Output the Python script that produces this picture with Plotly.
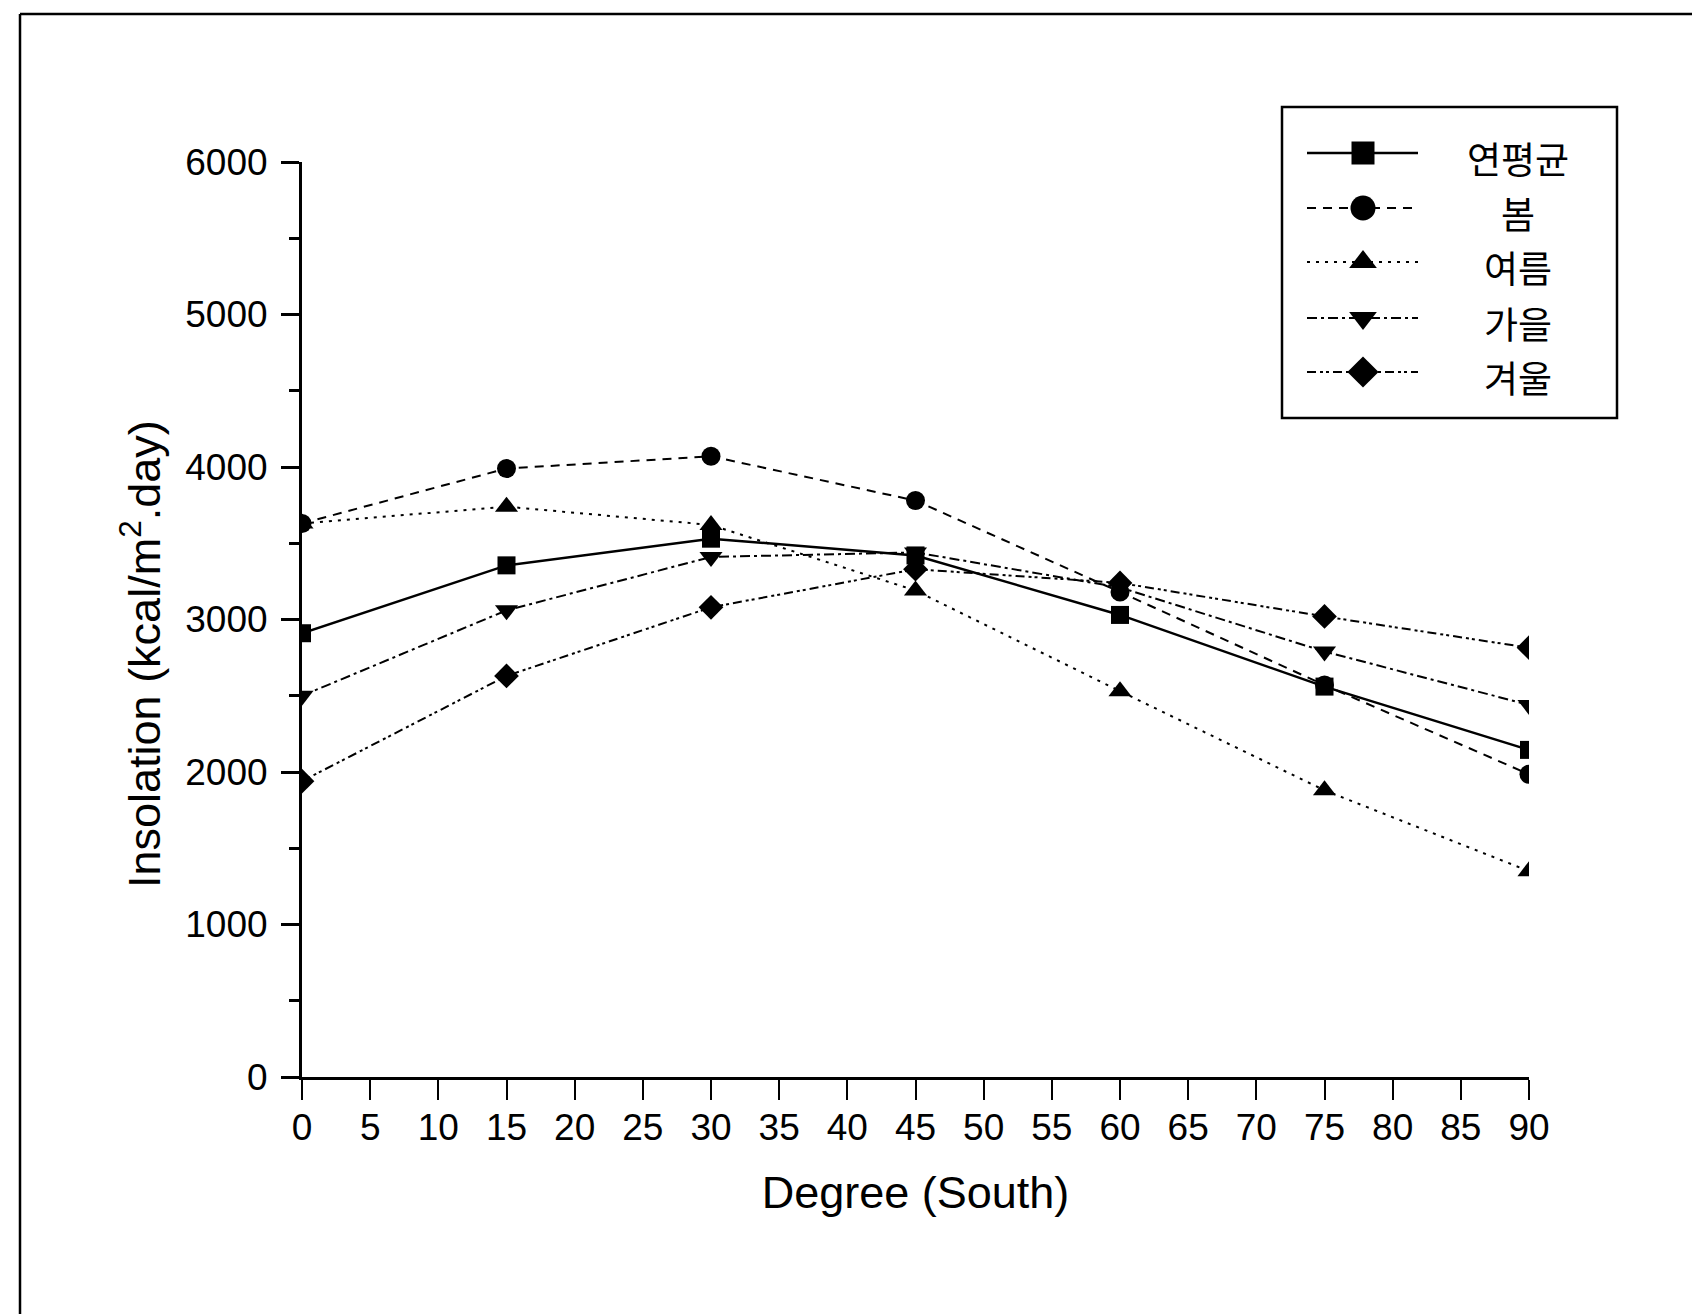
import plotly.graph_objects as go

# ---- data ----
angles = [0, 15, 30, 45, 60, 75, 90]
annual = [2910, 3355, 3530, 3420, 3030, 2560, 2145]   # 연평균
spring = [3630, 3990, 4070, 3780, 3180, 2570, 1985]   # 봄
summer = [3630, 3740, 3620, 3190, 2530, 1880, 1350]   # 여름
autumn = [2500, 3060, 3410, 3440, 3210, 2790, 2440]   # 가을
winter = [1940, 2630, 3080, 3330, 3240, 3020, 2815]   # 겨울
names = ["연평균", "봄", "여름", "가을", "겨울"]
x_ticks = list(range(0, 91, 5))
y_ticks = list(range(0, 6001, 1000))

# ---- layout geometry (pixels) ----
W, H = 1692, 1314
L, R, T, B = 302, 1529, 162, 1077   # main plot area edges
TP = 80                             # top of the margin box (legend overlay area)


def px(xp):
    return (xp - L) / (R - L)


def py(yp):
    return (B - yp) / (B - TP)


series = [annual, spring, summer, autumn, winter]
symbols = ["square", "circle", "triangle-up", "triangle-down", "diamond"]
dashes = ["solid", "9px,7px", "3px,6px", "10px,4px,3px,4px", "9px,4px,3px,3px,3px,4px"]
widths = [2.5, 2, 2, 2, 2]
sizes = [18, 19, 20, 20, 19]
leg_sizes = [23, 25, 24, 24, 24]

fig = go.Figure()
for vals, nm, sym, ds, lw, sz in zip(series, names, symbols, dashes, widths, sizes):
    fig.add_trace(go.Scatter(
        x=angles, y=vals, name=nm, mode="lines+markers",
        line=dict(color="black", width=lw, dash=ds),
        marker=dict(symbol=sym, size=sz, color="black"),
        showlegend=False,
    ))

# ---- custom legend ----
font_main = "Liberation Sans, Arial, sans-serif"
leg_rows = [153, 208, 262, 318, 372]
leg_x0, leg_xm, leg_x1 = 1307, 1363, 1418
shapes = []
for nm, sym, ds, lw, sz, ry in zip(names, symbols, dashes, widths, leg_sizes, leg_rows):
    shapes.append(dict(type="line", xref="paper", yref="paper",
                       x0=px(leg_x0), x1=px(leg_x1), y0=py(ry), y1=py(ry),
                       line=dict(color="black", width=lw, dash=ds)))
    fig.add_trace(go.Scatter(
        x=[leg_xm], y=[ry], xaxis="x2", yaxis="y2", mode="markers",
        marker=dict(symbol=sym, size=sz, color="black"),
        showlegend=False, hoverinfo="skip", cliponaxis=False,
    ))
    fig.add_annotation(
        x=px(1518), y=py(ry + 5), xref="paper", yref="paper",
        text=nm, showarrow=False, xanchor="center", yanchor="middle",
        font=dict(family="Noto Sans CJK KR", size=37, color="black"),
    )

# y-axis title as rotated annotation
fig.add_annotation(
    x=px(141), y=py(654), xref="paper", yref="paper",
    text="Insolation (kcal/m<sup>2</sup>.day)", textangle=-90, showarrow=False,
    xanchor="center", yanchor="middle",
    font=dict(family=font_main, size=45, color="black"),
)

shapes += [
    # legend box
    dict(type="rect", xref="paper", yref="paper",
         x0=px(1282), x1=px(1617), y0=py(418), y1=py(107),
         line=dict(color="black", width=2.5), fillcolor="rgba(0,0,0,0)"),
    # scanned frame lines (top and left)
    dict(type="line", xref="paper", yref="paper",
         x0=px(20), x1=px(1692), y0=py(14), y1=py(14),
         line=dict(color="black", width=2.5)),
    dict(type="line", xref="paper", yref="paper",
         x0=px(20), x1=px(20), y0=py(14), y1=py(1314),
         line=dict(color="black", width=2.5)),
]

fig.update_layout(
    width=W, height=H,
    margin=dict(l=L, r=W - R, t=TP, b=H - B, pad=0),
    paper_bgcolor="white", plot_bgcolor="rgba(0,0,0,0)",
    font=dict(family=font_main, color="black"),
    shapes=shapes,
    xaxis=dict(
        domain=[0, 1],
        range=[0, 90], tickmode="array", tickvals=x_ticks,
        ticks="outside", ticklen=20, tickwidth=2, tickcolor="black",
        showline=True, linewidth=3, linecolor="black",
        showgrid=False, zeroline=False,
        tickfont=dict(family=font_main, size=37, color="black"),
        ticklabelstandoff=-4,
        title=dict(text="Degree (South)", standoff=30,
                   font=dict(family=font_main, size=45, color="black")),
    ),
    yaxis=dict(
        domain=[0, (B - T) / (B - TP)],
        range=[0, 6000], tickmode="array", tickvals=y_ticks,
        ticks="outside", ticklen=18, tickwidth=3, tickcolor="black",
        minor=dict(dtick=500, ticks="outside", ticklen=10, tickwidth=3, tickcolor="black", showgrid=False),
        showline=True, linewidth=3, linecolor="black",
        showgrid=False, zeroline=False,
        tickfont=dict(family=font_main, size=37, color="black"),
        ticklabelstandoff=6,
    ),
    xaxis2=dict(domain=[0, 1], range=[L, R], anchor="y2", visible=False, fixedrange=True),
    yaxis2=dict(domain=[0, 1], range=[B, TP], anchor="x2", visible=False, fixedrange=True),
)

fig.write_html("out.html")
